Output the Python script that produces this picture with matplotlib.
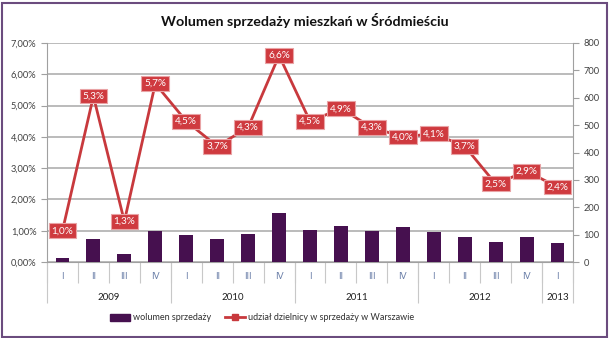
import matplotlib.pyplot as plt
from matplotlib.patches import Rectangle
from matplotlib.lines import Line2D
from matplotlib.patches import Patch

plt.rcParams['font.family'] = ['Lato', 'DejaVu Sans']

quarters = ['I', 'II', 'III', 'IV'] * 4 + ['I']
years = ['2009', '2010', '2011', '2012', '2013']
year_len = [4, 4, 4, 4, 1]
volume = [13, 83, 30, 114, 97, 85, 103, 179, 118, 131, 112, 129, 109, 91, 74, 91, 68]
share = [1.0, 5.3, 1.3, 5.7, 4.5, 3.7, 4.3, 6.6, 4.5, 4.9, 4.3, 4.0, 4.1, 3.7, 2.5, 2.9, 2.4]
pct_ticks = [0, 1, 2, 3, 4, 5, 6, 7]
vol_ticks = [0, 100, 200, 300, 400, 500, 600, 700, 800]

bar_col = '#46104f'
line_col = '#c8393d'
W, H = 609, 338

fig = plt.figure(figsize=(W / 100, H / 100), dpi=100)
x0, x1, y0, y1 = 47, 573, 43, 262
ax = fig.add_axes([x0 / W, 1 - y1 / H, (x1 - x0) / W, (y1 - y0) / H])
n = len(share)
xs = list(range(n))

# grid + left percent axis
ax.set_xlim(-0.5, n - 0.5)
ax.set_ylim(0, 7)
ax.set_yticks(pct_ticks)
ax.set_yticklabels([f'{v:.2f}%'.replace('.', ',') for v in pct_ticks])
ax.grid(axis='y', color='#b5b5b5', linewidth=1.3)
ax.set_axisbelow(True)
for s in ['top', 'right']:
    ax.spines[s].set_visible(False)
ax.spines['left'].set_color('#a0a0a0')
ax.spines['bottom'].set_color('#a0a0a0')
ax.tick_params(axis='y', labelsize=6.7, colors='#a0a0a0', labelcolor='#404040', length=4)

# bars on right axis
axb = ax.twinx()
axb.bar(xs, volume, width=0.45, color=bar_col, zorder=2)
axb.set_ylim(0, 800)
axb.set_yticks(vol_ticks)
axb.tick_params(axis='y', labelsize=6.7, labelcolor='#404040', color='#a0a0a0', length=4)
for s in ['top', 'left', 'bottom']:
    axb.spines[s].set_visible(False)
axb.spines['right'].set_color('#a0a0a0')

# line on top
axl = ax.twinx()
axl.set_ylim(0, 7)
axl.axis('off')
axl.plot(xs, share, color=line_col, linewidth=2, marker='s', markersize=4, zorder=3)
for xi, v in zip(xs, share):
    axl.text(xi, v, f'{v:.1f}%'.replace('.', ','), ha='center', va='center',
             fontsize=7.2, color='white', zorder=4,
             bbox=dict(boxstyle='square,pad=0.28', fc='#cf3a3f', ec='#e9a3a5', lw=0.8))

# category axis
ax.set_xticks(xs)
ax.set_xticklabels(quarters)
ax.tick_params(axis='x', length=0, labelsize=6.5, labelcolor='#6a7fa8', pad=7)
bounds = [b - 0.5 for b in range(n + 1)]
trans = ax.get_xaxis_transform()
ax.vlines(bounds, -21 / (y1 - y0), 0, transform=trans, color='#c8c8c8', lw=0.8, clip_on=False)
start = 0
year_bounds = [-0.5]
for yr, ln in zip(years, year_len):
    ax.text(start + (ln - 1) / 2, -35 / (y1 - y0), yr, transform=trans, ha='center', va='center',
            fontsize=7, color='#202020')
    start += ln
    year_bounds.append(start - 0.5)
ax.vlines(year_bounds, -41 / (y1 - y0), 0, transform=trans, color='#c8c8c8', lw=0.8, clip_on=False)

fig.text(0.5, 1 - 20 / H, 'Wolumen sprzedaży mieszkań w Śródmieściu', ha='center', va='center',
         fontsize=10.3, fontweight='bold', color='#111111')

handles = [Patch(color=bar_col, label='wolumen sprzedaży'),
           Line2D([0], [0], color=line_col, lw=2, marker='s', markersize=4,
                  label='udział dzielnicy w sprzedaży w Warszawie')]
fig.legend(handles=handles, loc='center', bbox_to_anchor=(262 / W, 1 - 318 / H), ncol=2,
           frameon=False, fontsize=6.5, handlelength=2.2, columnspacing=1.6, handletextpad=0.3,
           labelcolor='#303030')

fig.patches.append(Rectangle((1.5 / W, 1.5 / H), (W - 4) / W, (H - 4) / H, transform=fig.transFigure,
                             fill=False, ec='#6b4c7e', lw=1.5))

fig.savefig('out.png', dpi=100)
